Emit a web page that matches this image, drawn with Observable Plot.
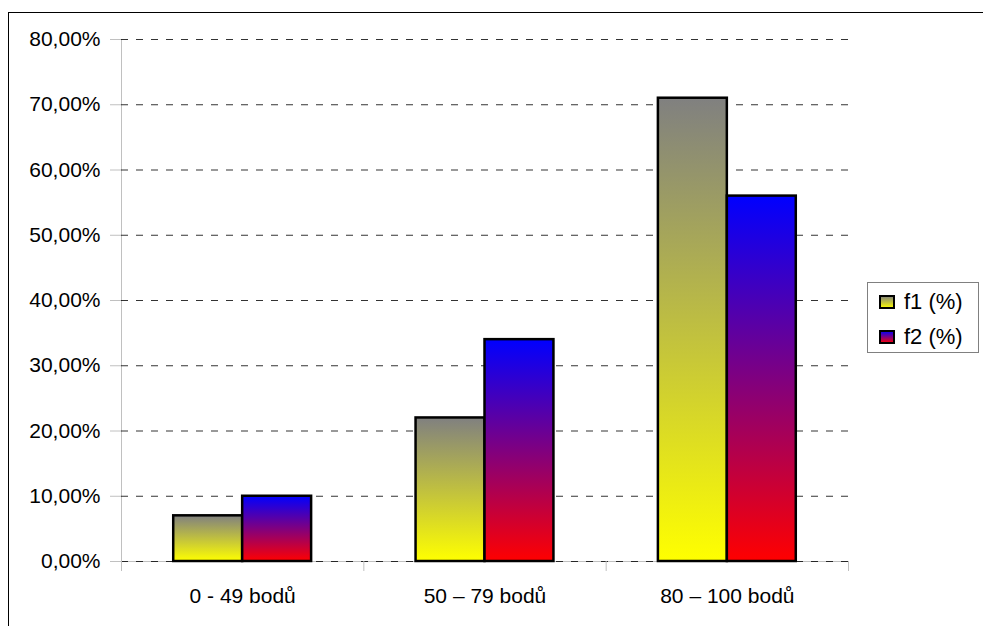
<!DOCTYPE html>
<html>
<head>
<meta charset="utf-8">
<script src="https://cdn.jsdelivr.net/npm/d3@7"></script>
<script src="https://cdn.jsdelivr.net/npm/@observablehq/plot@0.6"></script>
<style>
  html, body { margin: 0; padding: 0; background: #fff; overflow: hidden; }
  body { font-family: "Liberation Sans", Arial, sans-serif; }
  #wrap { position: relative; width: 983px; height: 626px; overflow: hidden; }
  #frame { position: absolute; left: 8px; top: 12px; width: 1100px; height: 800px; border: 1px solid #000; box-sizing: border-box; pointer-events: none; }
  #chart { position: absolute; left: 0; top: 0; }
  #legend { position: absolute; left: 867px; top: 282px; width: 112px; height: 71px; border: 1px solid #808080; box-sizing: border-box; background: #fff; }
  .item { position: absolute; left: 11px; display: flex; align-items: center; font-size: 22px; color: #000; white-space: nowrap; }
  .item svg { margin-right: 9px; }
  #defs { position: absolute; width: 0; height: 0; }
</style>
</head>
<body>
<svg id="defs" width="0" height="0">
  <defs>
    <linearGradient id="gradF1" x1="0" y1="0" x2="0" y2="1">
      <stop offset="0" stop-color="#808080"/>
      <stop offset="1" stop-color="#ffff00"/>
    </linearGradient>
    <linearGradient id="gradF2" x1="0" y1="0" x2="0" y2="1">
      <stop offset="0" stop-color="#0000ff"/>
      <stop offset="1" stop-color="#ff0000"/>
    </linearGradient>
  </defs>
</svg>
<div id="wrap">
  <div id="frame"></div>
  <div id="chart"></div>
  <div id="legend"></div>
</div>
<script>
// Score bands and the share of results in each band
const categories = ["0 - 49 bodů", "50 – 79 bodů", "80 – 100 bodů"];
const seriesNames = ["f1 (%)", "f2 (%)"];
const f1 = [7, 22, 71];
const f2 = [10, 34, 56];
const yTicks = [0, 10, 20, 30, 40, 50, 60, 70, 80];

const fills = { "f1 (%)": "url(#gradF1)", "f2 (%)": "url(#gradF2)" };

// Categories sit at integer positions; each pair of bars is centred on it
const barWidth = 0.2845;
const rows = categories.flatMap((c, i) => [
  { category: c, series: "f1 (%)", x1: i - barWidth, x2: i, value: f1[i] },
  { category: c, series: "f2 (%)", x1: i, x2: i + barWidth, value: f2[i] }
]);
const boundaries = d3.range(categories.length + 1).map(i => i - 0.5);
const fmt = d => d.toFixed(2).replace(".", ",") + "%";

const chart = Plot.plot({
  width: 983,
  height: 626,
  marginLeft: 121,
  marginRight: 135,
  marginTop: 39,
  marginBottom: 65,
  style: { fontFamily: "'Liberation Sans', Arial, sans-serif", fontSize: "21px", background: "transparent", color: "#000" },
  x: { domain: [-0.5, categories.length - 0.5], axis: null },
  y: { domain: [0, 80], axis: null },
  marks: [
    // light axis lines
    Plot.ruleY([0], { stroke: "#c0c0c0", strokeWidth: 1 }),
    Plot.ruleX([boundaries[0]], { stroke: "#c0c0c0", strokeWidth: 1 }),
    // dashed horizontal gridlines
    Plot.ruleY(yTicks, { stroke: "#000", strokeWidth: 1, strokeDasharray: "7,8", strokeOpacity: 0.8 }),
    // y axis ticks and percentage labels
    Plot.axisY(yTicks, { tickSize: 11, tickPadding: 10, tickFormat: fmt, stroke: "#c0c0c0", fill: "#000", label: null, fontSize: 21 }),
    // category separators below the baseline
    Plot.axisX(boundaries, { tickSize: 10, tickFormat: () => "", stroke: "#c0c0c0", label: null }),
    // category labels
    Plot.axisX(d3.range(categories.length), { tickSize: 0, tickPadding: 27, tickFormat: i => categories[i], fill: "#000", label: null, fontSize: 21 }),
    // bars
    Plot.rectY(rows.filter(d => d.series === "f1 (%)"), { x1: "x1", x2: "x2", y: "value", fill: fills["f1 (%)"], stroke: "#000", strokeWidth: 2.5 }),
    Plot.rectY(rows.filter(d => d.series === "f2 (%)"), { x1: "x1", x2: "x2", y: "value", fill: fills["f2 (%)"], stroke: "#000", strokeWidth: 2.5 })
  ]
});
document.getElementById("chart").appendChild(chart);

// Legend
const legend = d3.select("#legend");
seriesNames.forEach((name, i) => {
  const item = legend.append("div").attr("class", "item").style("top", (i === 0 ? 6 : 41) + "px");
  const sw = item.append("svg").attr("width", 16).attr("height", 14);
  sw.append("rect").attr("x", 1).attr("y", 1).attr("width", 14).attr("height", 12)
    .attr("fill", fills[name]).attr("stroke", "#000").attr("stroke-width", 2);
  item.append("span").text(name);
});
</script>
</body>
</html>
